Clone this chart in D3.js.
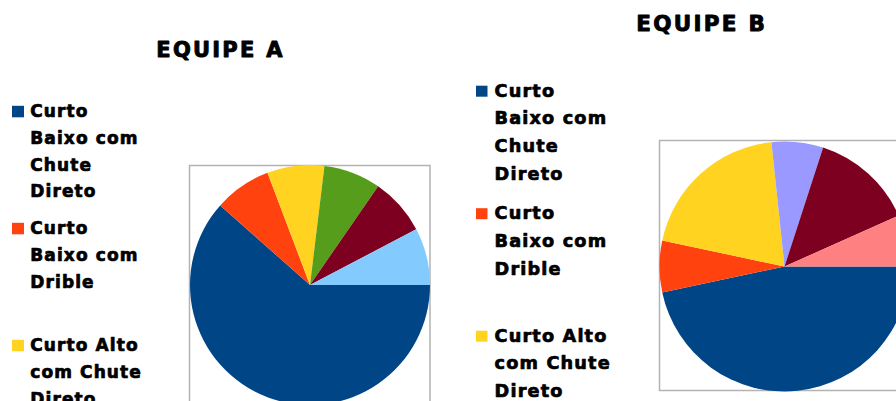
<!DOCTYPE html>
<html>
<head>
<meta charset="utf-8">
<script src="https://cdn.jsdelivr.net/npm/d3@7"></script>
<style>
  html, body { margin: 0; padding: 0; background: #ffffff; overflow: hidden; }
  svg { display: block; }
  text { font-family: "DejaVu Sans", Verdana, sans-serif; font-weight: bold; fill: #000; stroke: #000; stroke-linejoin: round; }
</style>
</head>
<body>
<svg id="chart" width="896" height="401"></svg>
<script>
// ---- Data ----
const categoriesA = [
  "Curto Baixo com Chute Direto",
  "Curto Baixo com Drible",
  "Curto Alto com Chute Direto",
  "Curto Alto com Drible",
  "Longo Baixo com Chute Direto",
  "Longo Alto com Chute Direto"
];
const valuesA = [8, 1, 1, 1, 1, 1];
const colorsA = ["#004586", "#ff420e", "#ffd320", "#579d1c", "#7e0021", "#83caff"];

const categoriesB = [
  "Curto Baixo com Chute Direto",
  "Curto Baixo com Drible",
  "Curto Alto com Chute Direto",
  "Curto Alto com Drible",
  "Longo Baixo com Chute Direto",
  "Longo Alto com Chute Direto"
];
const valuesB = [7, 1, 3, 1, 2, 1];
const colorsB = ["#004586", "#ff420e", "#ffd320", "#9999ff", "#7e0021", "#ff8080"];

const titles = ["EQUIPE A", "EQUIPE B"];

// ---- Layout ----
const W = 896, H = 401;
const svg = d3.select("#chart");

const charts = [
  {
    title: titles[0], cats: categoriesA, vals: valuesA, colors: colorsA,
    titleX: 156.3, titleY: 57.3, titleSize: 21, titleSpacing: 2.25,
    cx: 310, cy: 285, r: 120,
    box: {x: 189.5, y: 165.5, w: 240.5, h: 245},
    legX: 12, legTextX: 30.3, legY: 117.3, legPitch: 117, lineH: 26.6,
    fontSize: 17, spacing: 1.1, maxW: 118, sw: 12
  },
  {
    title: titles[1], cats: categoriesB, vals: valuesB, colors: colorsB,
    titleX: 636.3, titleY: 30.7, titleSize: 21.5, titleSpacing: 2.25,
    cx: 784.5, cy: 266.5, r: 125,
    box: {x: 659.5, y: 140.5, w: 250, h: 250},
    legX: 476, legTextX: 494.6, legY: 96.7, legPitch: 122.5, lineH: 27.7,
    fontSize: 17.7, spacing: 1.15, maxW: 123, sw: 11.5
  }
];

charts.forEach(c => {
  const g = svg.append("g");

  // Title
  g.append("text")
    .attr("x", c.titleX).attr("y", c.titleY)
    .attr("font-size", c.titleSize)
    .attr("letter-spacing", c.titleSpacing)
    .attr("stroke-width", 0.9)
    .text(c.title);

  // Plot box
  g.append("rect")
    .attr("x", c.box.x).attr("y", c.box.y)
    .attr("width", c.box.w).attr("height", c.box.h)
    .attr("fill", "none").attr("stroke", "#b3b3b3").attr("stroke-width", 1.5);

  // Pie
  const pie = d3.pie().sort(null).value(d => d)
    .startAngle(Math.PI / 2).endAngle(Math.PI / 2 + 2 * Math.PI);
  const arc = d3.arc().innerRadius(0).outerRadius(c.r);
  const color = d3.scaleOrdinal().domain(d3.range(c.vals.length)).range(c.colors);

  g.append("g").attr("transform", `translate(${c.cx},${c.cy})`)
    .selectAll("path")
    .data(pie(c.vals))
    .join("path")
    .attr("d", arc)
    .attr("fill", (d, i) => color(i));

  // Legend (entries that fall wholly below the visible area are skipped)
  const leg = g.append("g");
  c.cats.forEach((name, i) => {
    const baseY = c.legY + i * c.legPitch;
    if (baseY - c.fontSize > H) return;
    leg.append("rect")
      .attr("x", c.legX).attr("y", baseY - c.sw + 0.5)
      .attr("width", c.sw).attr("height", c.sw - 0.5)
      .attr("fill", color(i));

    const t = leg.append("text")
      .attr("x", c.legTextX).attr("y", baseY)
      .attr("font-size", c.fontSize)
      .attr("letter-spacing", c.spacing)
      .attr("stroke-width", 0.7);

    // word wrapping
    const words = name.split(" ");
    let line = [];
    let lineNo = 0;
    let tspan = t.append("tspan").attr("x", c.legTextX).attr("y", baseY);
    words.forEach(w => {
      line.push(w);
      tspan.text(line.join(" "));
      if (tspan.node().getComputedTextLength() > c.maxW && line.length > 1) {
        line.pop();
        tspan.text(line.join(" "));
        line = [w];
        lineNo++;
        tspan = t.append("tspan").attr("x", c.legTextX)
          .attr("y", baseY + lineNo * c.lineH).text(w);
      }
    });
  });
});
</script>
</body>
</html>
